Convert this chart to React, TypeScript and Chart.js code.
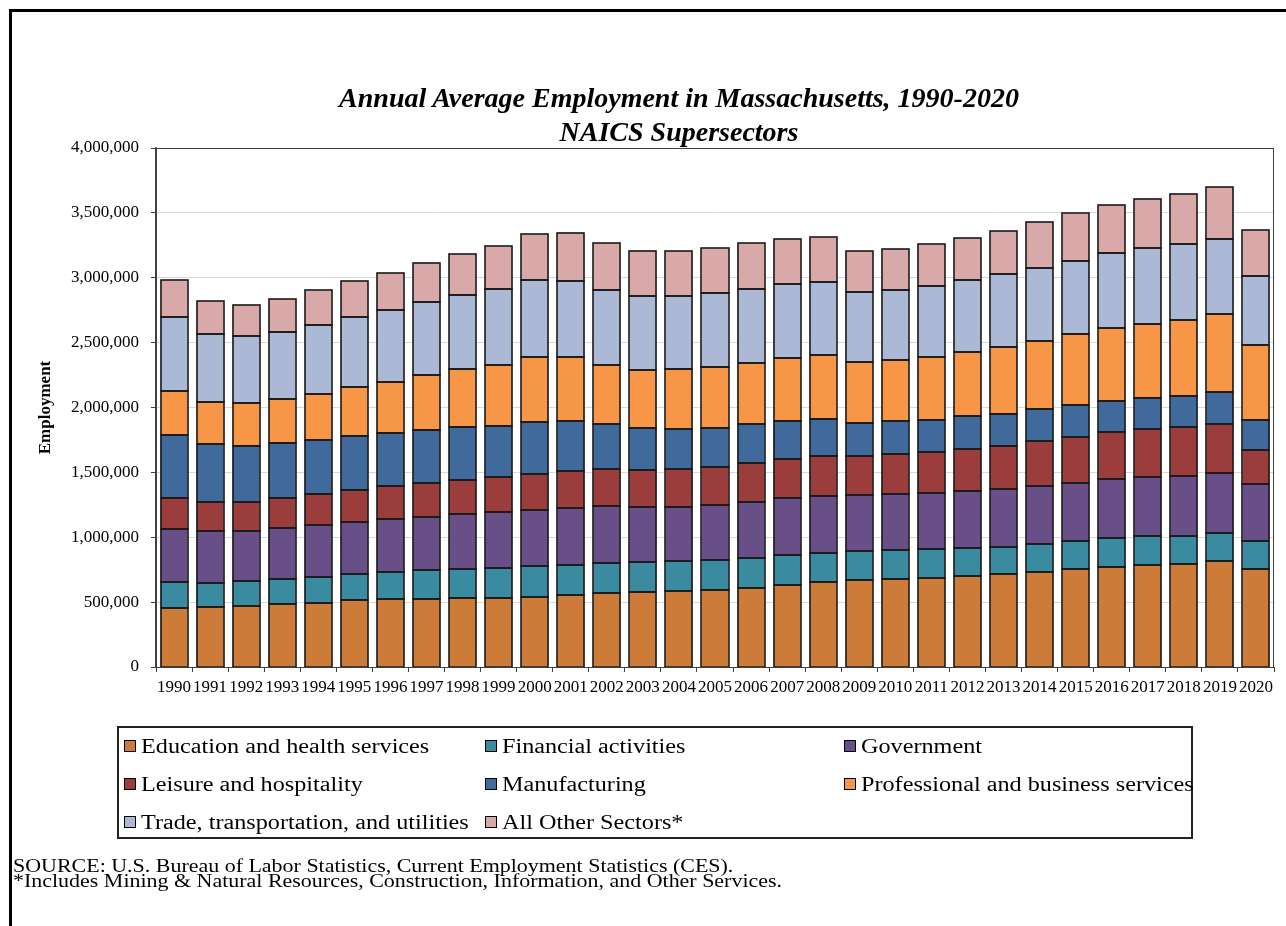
import React, { useEffect, useRef } from "react";
import { Chart, registerables } from "chart.js";

Chart.register(...registerables);

const years = [
  "1990", "1991", "1992", "1993", "1994", "1995", "1996", "1997", "1998", "1999",
  "2000", "2001", "2002", "2003", "2004", "2005", "2006", "2007", "2008", "2009",
  "2010", "2011", "2012", "2013", "2014", "2015", "2016", "2017", "2018", "2019", "2020",
];

const education = [453000, 459000, 472000, 488000, 496000, 514000, 522000, 525000, 530000, 533000, 541000, 554000, 570000, 578000, 588000, 596000, 612000, 634000, 652000, 668000, 679000, 689000, 702000, 716000, 734000, 753000, 771000, 787000, 795000, 814000, 755000];
const financial = [202000, 188000, 188000, 191000, 196000, 204000, 207000, 220000, 223000, 230000, 236000, 233000, 231000, 228000, 226000, 228000, 228000, 230000, 228000, 223000, 220000, 218000, 215000, 212000, 212000, 217000, 220000, 220000, 218000, 222000, 215000];
const government = [408000, 400000, 392000, 395000, 400000, 403000, 411000, 411000, 424000, 430000, 432000, 440000, 437000, 424000, 416000, 425000, 432000, 435000, 437000, 434000, 434000, 434000, 440000, 445000, 451000, 451000, 456000, 454000, 456000, 456000, 438000];
const leisure = [239000, 223000, 223000, 230000, 244000, 244000, 254000, 260000, 265000, 270000, 275000, 281000, 286000, 292000, 297000, 294000, 300000, 302000, 311000, 305000, 310000, 313000, 324000, 334000, 345000, 355000, 361000, 371000, 379000, 379000, 265000];
const manufacturing = [485000, 445000, 432000, 422000, 411000, 416000, 406000, 410000, 411000, 398000, 403000, 387000, 345000, 320000, 310000, 302000, 297000, 294000, 283000, 252000, 250000, 249000, 251000, 244000, 246000, 244000, 241000, 244000, 241000, 247000, 228000];
const professional = [339000, 326000, 329000, 342000, 358000, 379000, 398000, 425000, 443000, 466000, 499000, 491000, 461000, 446000, 456000, 466000, 474000, 488000, 493000, 467000, 471000, 488000, 499000, 517000, 528000, 543000, 562000, 569000, 588000, 604000, 580000];
const trade = [570000, 528000, 514000, 517000, 530000, 538000, 551000, 564000, 572000, 586000, 596000, 591000, 578000, 572000, 570000, 570000, 570000, 570000, 567000, 543000, 544000, 546000, 551000, 559000, 562000, 568000, 578000, 581000, 581000, 578000, 530000];
const otherSectors = [286000, 251000, 241000, 251000, 268000, 279000, 289000, 300000, 313000, 329000, 355000, 371000, 360000, 350000, 344000, 345000, 353000, 347000, 342000, 315000, 313000, 321000, 324000, 334000, 352000, 365000, 374000, 382000, 389000, 400000, 355000];

const seriesNames = [
  "Education and health services",
  "Financial activities",
  "Government",
  "Leisure and hospitality",
  "Manufacturing",
  "Professional and business services",
  "Trade, transportation, and utilities",
  "All Other Sectors*",
];
const seriesColors = ["#CC7B38", "#3A8AA0", "#694F87", "#9C3D3D", "#3F6A9B", "#F69646", "#ABB9D6", "#D9A9A9"];
const seriesData = [education, financial, government, leisure, manufacturing, professional, trade, otherSectors];

const titleLines = ["Annual Average Employment in Massachusetts, 1990-2020", "NAICS Supersectors"];
const yAxisTitle = "Employment";
const sourceLines = [
  "SOURCE: U.S. Bureau of Labor Statistics, Current Employment Statistics (CES).",
  "*Includes Mining & Natural Resources, Construction, Information, and Other Services.",
];

const FONT = "'Liberation Serif', 'Times New Roman', Times, serif";
const legendColX = [124, 485, 844];
const legendRowY = [746, 784, 822];

// Crisp outlines around every bar segment, using the bar elements' own geometry.
const barOutlinePlugin = {
  id: "barOutline",
  afterDatasetsDraw(chart: any) {
    const { ctx } = chart;
    ctx.save();
    ctx.strokeStyle = "#1a1a1a";
    ctx.lineWidth = 1.6;
    chart.data.datasets.forEach((_: any, di: number) => {
      const meta = chart.getDatasetMeta(di);
      meta.data.forEach((bar: any) => {
        const { x, y, base, width } = bar.getProps(["x", "y", "base", "width"], true);
        const left = Math.round(x - width / 2);
        const right = Math.round(x + width / 2);
        const top = Math.round(Math.min(y, base));
        const bottom = Math.round(Math.max(y, base));
        ctx.strokeRect(left, top, right - left, bottom - top);
      });
    });
    ctx.restore();
  },
};

const framePlugin = {
  id: "plotFrame",
  afterDraw(chart: any) {
    const { ctx, chartArea } = chart;
    ctx.save();
    ctx.strokeStyle = "#404040";
    ctx.lineWidth = 1;
    ctx.strokeRect(
      Math.round(chartArea.left) + 0.5,
      Math.round(chartArea.top) + 0.5,
      Math.round(chartArea.right - chartArea.left) - 1,
      Math.round(chartArea.bottom - chartArea.top)
    );
    ctx.restore();
  },
};

export default function App() {
  const canvasRef = useRef<HTMLCanvasElement | null>(null);

  useEffect(() => {
    const canvas = canvasRef.current;
    if (!canvas) return;
    const chart = new Chart(canvas, {
      type: "bar",
      data: {
        labels: years,
        datasets: seriesNames.map((name, i) => ({
          label: name,
          data: seriesData[i],
          backgroundColor: seriesColors[i],
          borderWidth: 0,
          inflateAmount: 0,
          barPercentage: 0.75,
          categoryPercentage: 1,
        })),
      },
      options: {
        responsive: false,
        animation: false,
        events: [],
        layout: { padding: { left: 0, top: 148, right: 12, bottom: 229 } },
        plugins: {
          legend: { display: false },
          title: { display: false },
          tooltip: { enabled: false },
        },
        scales: {
          x: {
            stacked: true,
            offset: true,
            grid: {
              offset: true,
              drawOnChartArea: false,
              drawTicks: true,
              tickLength: 5,
              color: "#404040",
              tickColor: "#404040",
            },
            border: { color: "#404040", width: 1 },
            ticks: {
              font: { family: FONT, size: 17 },
              color: "#000000",
              padding: 5,
              maxRotation: 0,
              minRotation: 0,
              autoSkip: false,
            },
            afterFit: (scale: any) => {
              scale.height = 30;
            },
          },
          y: {
            stacked: true,
            min: 0,
            max: 4000000,
            ticks: {
              stepSize: 500000,
              font: { family: FONT, size: 17 },
              color: "#000000",
              padding: 12,
              callback: (v: any) => Number(v).toLocaleString("en-US"),
            },
            grid: {
              color: "#d9d9d9",
              tickColor: "#404040",
              tickLength: 5,
            },
            border: { color: "#404040", width: 1.5 },
            title: {
              display: true,
              text: yAxisTitle,
              font: { family: FONT, size: 17, weight: "bold" },
              color: "#000000",
              padding: { top: 35, bottom: 0 },
            },
            afterFit: (scale: any) => {
              scale.width = 156;
            },
          },
        },
      },
      plugins: [barOutlinePlugin, framePlugin],
    });
    return () => chart.destroy();
  }, []);

  return (
    <div style={{ position: "absolute", left: 0, top: 0, width: 1286, height: 926, overflow: "hidden", background: "#fff" }}>
      <canvas ref={canvasRef} width={1286} height={926} style={{ position: "absolute", left: 0, top: 0 }} />
      <div
        style={{
          position: "absolute",
          left: 9,
          top: 9,
          width: 1286 - 9,
          height: 926 - 9,
          boxSizing: "border-box",
          borderTop: "3px solid #000",
          borderLeft: "3px solid #000",
          pointerEvents: "none",
        }}
      />
      <div
        style={{
          position: "absolute",
          left: 179,
          top: 81,
          width: 1000,
          textAlign: "center",
          fontFamily: FONT,
          fontStyle: "italic",
          fontWeight: "bold",
          fontSize: 28,
          lineHeight: "33.6px",
          color: "#000",
        }}
      >
        {titleLines.map((t) => (
          <div key={t}>{t}</div>
        ))}
      </div>
      <div
        style={{
          position: "absolute",
          left: 117,
          top: 726,
          width: 1076,
          height: 113,
          boxSizing: "border-box",
          border: "2px solid #222",
        }}
      />
      {seriesNames.map((name, i) => {
        const col = i % 3;
        const row = Math.floor(i / 3);
        return (
          <div
            key={name}
            style={{
              position: "absolute",
              left: legendColX[col],
              top: legendRowY[row] - 12,
              height: 24,
              display: "flex",
              alignItems: "center",
              whiteSpace: "nowrap",
            }}
          >
            <div
              style={{
                width: 12,
                height: 12,
                boxSizing: "border-box",
                border: "1px solid #000",
                background: seriesColors[i],
                marginRight: 5,
              }}
            />
            <div
              style={{
                fontFamily: FONT,
                fontSize: 20,
                lineHeight: "24px",
                color: "#000",
                transform: "scaleX(1.21)",
                transformOrigin: "left center",
              }}
            >
              {name}
            </div>
          </div>
        );
      })}
      <div
        style={{
          position: "absolute",
          left: 13,
          top: 859,
          fontFamily: FONT,
          fontSize: 18,
          lineHeight: "15px",
          color: "#000",
          whiteSpace: "nowrap",
          transform: "scaleX(1.22)",
          transformOrigin: "left top",
        }}
      >
        {sourceLines.map((t) => (
          <div key={t}>{t}</div>
        ))}
      </div>
    </div>
  );
}
